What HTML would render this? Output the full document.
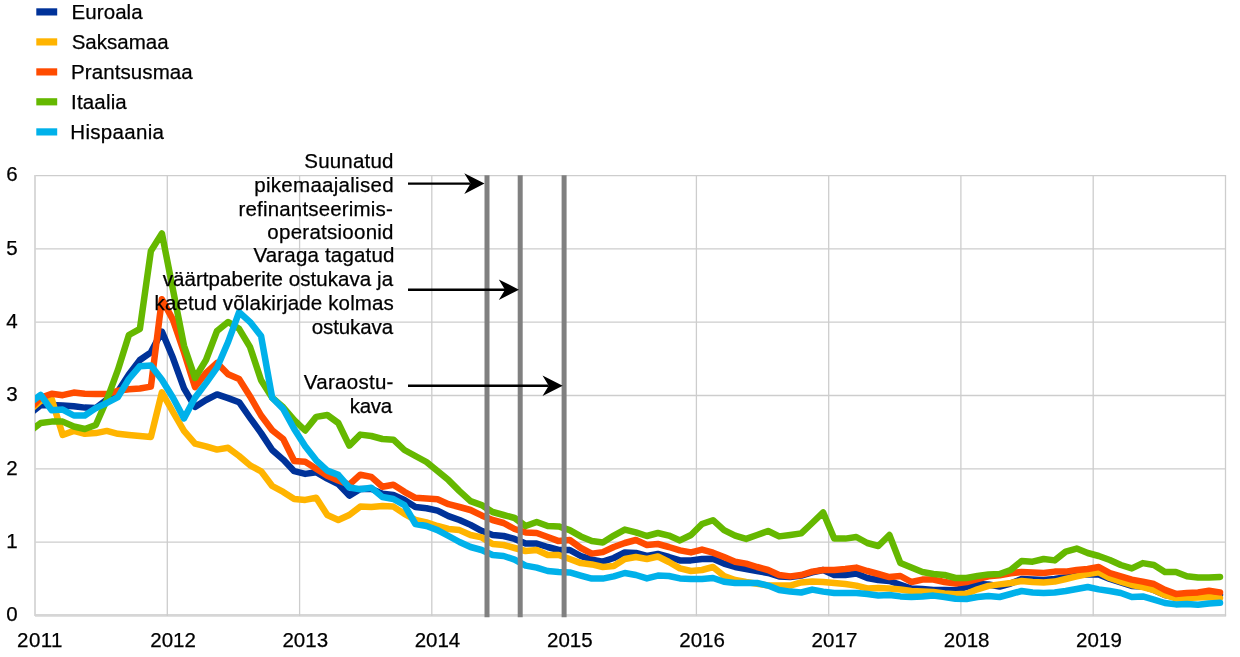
<!DOCTYPE html>
<html lang="et"><head><meta charset="utf-8"><title>Chart</title>
<style>
html,body{margin:0;padding:0;background:#fff;}
svg{display:block;}
text{font-family:"Liberation Sans",Arial,sans-serif;font-size:20.5px;fill:#000;stroke:#000;stroke-width:0.25px;}
.s{fill:none;stroke-linejoin:round;stroke-linecap:round;stroke-width:6.5}
.g{stroke:#cdcdcd;stroke-width:1.3;fill:none}
.v{stroke:#808080;stroke-width:5.0;fill:none}
.a{stroke:#000;stroke-width:2.4;fill:none}
</style></head><body>
<svg width="1240" height="657" viewBox="0 0 1240 657">
<rect width="1240" height="657" fill="#fff"/>
<defs><clipPath id="c"><rect x="35.0" y="170" width="1194.5" height="450"/></clipPath></defs>

<path class="g" d="M35.0 542.2 H1225.5"/>
<path class="g" d="M35.0 468.9 H1225.5"/>
<path class="g" d="M35.0 395.5 H1225.5"/>
<path class="g" d="M35.0 322.2 H1225.5"/>
<path class="g" d="M35.0 248.9 H1225.5"/>
<path class="g" d="M35.0 175.6 H1225.5"/>
<path d="M35.0 615.40 H1226.1" stroke="#d6d6d6" stroke-width="2.7" fill="none"/>
<path class="g" style="stroke-width:1.75;stroke:#d4d4d4" d="M35.0 175.0 V616.1"/>
<path class="g" d="M167.3 175.0 V616.1"/>
<path class="g" d="M299.6 175.0 V616.1"/>
<path class="g" d="M431.8 175.0 V616.1"/>
<path class="g" d="M564.1 175.0 V616.1"/>
<path class="g" d="M696.4 175.0 V616.1"/>
<path class="g" d="M828.7 175.0 V616.1"/>
<path class="g" d="M960.9 175.0 V616.1"/>
<path class="g" d="M1093.2 175.0 V616.1"/>
<path class="g" d="M1225.5 175.0 V616.1"/>
<g clip-path="url(#c)">
<path class="s" stroke="#003299" d="M29.7 413.6 L40.7 405.2 L51.7 405.0 L62.7 405.4 L73.8 406.2 L84.8 407.6 L95.8 408.0 L106.8 399.6 L117.9 391.6 L128.9 374.4 L139.9 360.0 L150.9 352.3 L161.9 331.6 L173.0 358.1 L184.0 388.3 L195.0 406.9 L206.0 400.0 L217.0 394.4 L228.1 398.1 L239.1 402.2 L250.1 418.0 L261.1 433.1 L272.2 450.0 L283.2 459.6 L294.2 471.2 L305.2 473.9 L316.2 472.2 L327.3 478.6 L338.3 484.0 L349.3 495.6 L360.3 488.9 L371.3 488.9 L382.4 493.8 L393.4 494.9 L404.4 499.9 L415.4 507.0 L426.5 508.2 L437.5 510.6 L448.5 516.1 L459.5 520.0 L470.5 524.9 L481.6 530.8 L492.6 535.0 L503.6 536.0 L514.6 538.9 L525.6 543.6 L536.7 543.6 L547.7 547.0 L558.7 550.0 L569.7 550.0 L580.8 556.0 L591.8 559.7 L602.8 561.7 L613.8 558.0 L624.8 552.4 L635.9 553.0 L646.9 556.0 L657.9 554.0 L668.9 557.0 L679.9 560.4 L691.0 560.4 L702.0 559.0 L713.0 558.7 L724.0 563.6 L735.1 567.0 L746.1 569.0 L757.1 571.0 L768.1 573.0 L779.1 576.4 L790.2 577.1 L801.2 575.6 L812.2 572.4 L823.2 570.0 L834.2 575.0 L845.3 575.0 L856.3 573.6 L867.3 578.0 L878.3 580.0 L889.4 581.0 L900.4 584.8 L911.4 588.5 L922.4 589.1 L933.4 589.9 L944.5 590.1 L955.5 590.2 L966.5 587.0 L977.5 584.0 L988.5 584.5 L999.6 586.5 L1010.6 583.5 L1021.6 579.0 L1032.6 579.6 L1043.7 580.0 L1054.7 579.0 L1065.7 577.1 L1076.7 575.0 L1087.7 574.4 L1098.8 574.4 L1109.8 579.0 L1120.8 582.4 L1131.8 585.9 L1142.8 586.4 L1153.9 590.0 L1164.9 595.0 L1175.9 597.0 L1186.9 596.6 L1198.0 595.5 L1209.0 594.4 L1220.0 594.7"/>
<path class="s" stroke="#FFB400" d="M29.7 410.3 L40.7 400.8 L51.7 399.0 L62.7 435.0 L73.8 430.9 L84.8 433.8 L95.8 433.1 L106.8 430.9 L117.9 433.8 L128.9 435.0 L139.9 436.0 L150.9 437.0 L161.9 392.4 L173.0 412.0 L184.0 430.9 L195.0 443.6 L206.0 446.3 L217.0 449.6 L228.1 447.8 L239.1 456.0 L250.1 465.4 L261.1 471.3 L272.2 486.0 L283.2 491.9 L294.2 499.0 L305.2 499.9 L316.2 497.8 L327.3 515.0 L338.3 520.0 L349.3 515.0 L360.3 506.6 L371.3 507.0 L382.4 506.0 L393.4 506.6 L404.4 513.9 L415.4 519.8 L426.5 522.4 L437.5 526.0 L448.5 529.0 L459.5 530.1 L470.5 535.0 L481.6 537.4 L492.6 544.0 L503.6 545.0 L514.6 548.0 L525.6 551.0 L536.7 550.0 L547.7 555.0 L558.7 555.0 L569.7 559.0 L580.8 563.1 L591.8 564.4 L602.8 567.0 L613.8 566.1 L624.8 559.0 L635.9 557.0 L646.9 559.0 L657.9 556.5 L668.9 562.0 L679.9 568.4 L691.0 571.0 L702.0 570.0 L713.0 567.0 L724.0 576.0 L735.1 580.0 L746.1 582.0 L757.1 583.7 L768.1 585.5 L779.1 585.5 L790.2 585.6 L801.2 582.4 L812.2 581.6 L823.2 582.0 L834.2 583.0 L845.3 584.0 L856.3 585.6 L867.3 588.4 L878.3 588.1 L889.4 588.4 L900.4 589.6 L911.4 591.0 L922.4 591.6 L933.4 592.0 L944.5 593.5 L955.5 594.2 L966.5 593.7 L977.5 589.3 L988.5 585.9 L999.6 584.4 L1010.6 583.0 L1021.6 581.0 L1032.6 582.0 L1043.7 582.4 L1054.7 581.6 L1065.7 579.0 L1076.7 576.4 L1087.7 574.0 L1098.8 572.4 L1109.8 578.0 L1120.8 581.6 L1131.8 585.0 L1142.8 587.0 L1153.9 590.0 L1164.9 595.0 L1175.9 598.4 L1186.9 598.0 L1198.0 597.4 L1209.0 597.0 L1220.0 598.0"/>
<path class="s" stroke="#FF4B00" d="M29.7 408.9 L40.7 397.8 L51.7 393.7 L62.7 395.2 L73.8 392.6 L84.8 393.7 L95.8 394.1 L106.8 394.1 L117.9 390.8 L128.9 389.3 L139.9 388.5 L150.9 386.6 L161.9 299.2 L173.0 319.9 L184.0 352.3 L195.0 387.1 L206.0 372.9 L217.0 363.0 L228.1 374.3 L239.1 379.0 L250.1 396.4 L261.1 415.5 L272.2 430.2 L283.2 439.0 L294.2 461.0 L305.2 461.8 L316.2 468.7 L327.3 475.7 L338.3 480.4 L349.3 484.7 L360.3 474.7 L371.3 476.9 L382.4 486.7 L393.4 484.7 L404.4 491.8 L415.4 497.8 L426.5 498.5 L437.5 499.2 L448.5 504.2 L459.5 507.0 L470.5 510.0 L481.6 515.4 L492.6 520.0 L503.6 523.0 L514.6 529.0 L525.6 532.4 L536.7 533.0 L547.7 537.0 L558.7 541.1 L569.7 540.0 L580.8 548.0 L591.8 553.6 L602.8 552.1 L613.8 547.0 L624.8 543.0 L635.9 540.0 L646.9 545.0 L657.9 544.0 L668.9 547.0 L679.9 550.4 L691.0 552.4 L702.0 549.6 L713.0 552.7 L724.0 557.0 L735.1 561.7 L746.1 563.6 L757.1 567.0 L768.1 570.0 L779.1 575.0 L790.2 576.4 L801.2 575.0 L812.2 571.6 L823.2 570.0 L834.2 570.0 L845.3 569.0 L856.3 567.6 L867.3 571.0 L878.3 574.0 L889.4 577.1 L900.4 576.0 L911.4 582.0 L922.4 579.6 L933.4 579.6 L944.5 582.0 L955.5 583.6 L966.5 582.0 L977.5 579.0 L988.5 576.3 L999.6 575.2 L1010.6 573.2 L1021.6 572.0 L1032.6 572.4 L1043.7 573.0 L1054.7 571.6 L1065.7 571.6 L1076.7 570.0 L1087.7 569.0 L1098.8 567.0 L1109.8 573.0 L1120.8 576.4 L1131.8 579.6 L1142.8 581.6 L1153.9 584.0 L1164.9 589.9 L1175.9 593.9 L1186.9 592.9 L1198.0 592.4 L1209.0 590.7 L1220.0 592.4"/>
<path class="s" stroke="#65B800" d="M29.7 431.6 L40.7 423.0 L51.7 421.6 L62.7 421.6 L73.8 426.5 L84.8 429.0 L95.8 425.0 L106.8 400.0 L117.9 369.9 L128.9 335.0 L139.9 328.8 L150.9 250.9 L161.9 233.4 L173.0 289.8 L184.0 345.7 L195.0 378.0 L206.0 360.0 L217.0 331.0 L228.1 322.0 L239.1 328.8 L250.1 347.2 L261.1 380.2 L272.2 397.8 L283.2 407.3 L294.2 420.2 L305.2 430.5 L316.2 416.9 L327.3 415.0 L338.3 423.0 L349.3 445.6 L360.3 434.6 L371.3 436.0 L382.4 439.0 L393.4 439.7 L404.4 450.0 L415.4 456.0 L426.5 462.0 L437.5 471.0 L448.5 480.1 L459.5 491.1 L470.5 501.1 L481.6 505.1 L492.6 512.0 L503.6 515.0 L514.6 518.0 L525.6 526.0 L536.7 522.0 L547.7 526.0 L558.7 526.4 L569.7 530.1 L580.8 536.4 L591.8 541.1 L602.8 542.4 L613.8 535.6 L624.8 529.6 L635.9 532.4 L646.9 536.0 L657.9 533.0 L668.9 535.6 L679.9 540.4 L691.0 535.0 L702.0 524.0 L713.0 520.2 L724.0 530.1 L735.1 535.6 L746.1 538.9 L757.1 535.0 L768.1 531.0 L779.1 536.4 L790.2 535.0 L801.2 533.4 L812.2 523.0 L823.2 512.4 L834.2 538.4 L845.3 538.6 L856.3 537.0 L867.3 543.0 L878.3 546.0 L889.4 535.0 L900.4 563.1 L911.4 567.6 L922.4 572.0 L933.4 574.0 L944.5 575.0 L955.5 578.0 L966.5 578.0 L977.5 576.0 L988.5 574.4 L999.6 574.0 L1010.6 570.0 L1021.6 561.0 L1032.6 561.7 L1043.7 559.0 L1054.7 560.4 L1065.7 551.6 L1076.7 548.6 L1087.7 553.0 L1098.8 556.0 L1109.8 560.0 L1120.8 565.0 L1131.8 568.4 L1142.8 563.1 L1153.9 565.0 L1164.9 572.0 L1175.9 572.0 L1186.9 576.3 L1198.0 577.6 L1209.0 577.4 L1220.0 576.9"/>
<path class="s" stroke="#00B1EA" d="M29.7 403.0 L40.7 394.9 L51.7 410.3 L62.7 409.6 L73.8 415.5 L84.8 415.5 L95.8 408.1 L106.8 403.0 L117.9 397.1 L128.9 379.0 L139.9 366.2 L150.9 365.5 L161.9 379.7 L173.0 397.8 L184.0 418.4 L195.0 397.8 L206.0 383.1 L217.0 367.7 L228.1 342.0 L239.1 312.1 L250.1 322.1 L261.1 336.1 L272.2 397.8 L283.2 408.9 L294.2 429.0 L305.2 446.3 L316.2 460.3 L327.3 470.6 L338.3 474.9 L349.3 487.5 L360.3 489.2 L371.3 487.8 L382.4 497.0 L393.4 499.0 L404.4 505.1 L415.4 524.0 L426.5 526.0 L437.5 530.1 L448.5 536.0 L459.5 542.0 L470.5 547.0 L481.6 550.0 L492.6 555.0 L503.6 556.0 L514.6 559.6 L525.6 565.6 L536.7 567.6 L547.7 571.0 L558.7 572.0 L569.7 572.4 L580.8 575.6 L591.8 578.6 L602.8 578.6 L613.8 576.4 L624.8 573.0 L635.9 575.0 L646.9 578.4 L657.9 575.6 L668.9 576.0 L679.9 578.4 L691.0 579.0 L702.0 579.0 L713.0 578.0 L724.0 581.8 L735.1 583.0 L746.1 583.0 L757.1 583.0 L768.1 585.6 L779.1 590.0 L790.2 591.6 L801.2 592.5 L812.2 589.6 L823.2 591.6 L834.2 593.0 L845.3 593.0 L856.3 593.0 L867.3 594.0 L878.3 595.5 L889.4 595.0 L900.4 596.4 L911.4 597.0 L922.4 596.6 L933.4 595.6 L944.5 597.0 L955.5 598.8 L966.5 599.0 L977.5 597.0 L988.5 596.0 L999.6 597.0 L1010.6 594.0 L1021.6 591.0 L1032.6 592.5 L1043.7 593.0 L1054.7 592.5 L1065.7 591.0 L1076.7 589.0 L1087.7 587.0 L1098.8 589.4 L1109.8 591.0 L1120.8 593.0 L1131.8 597.0 L1142.8 596.4 L1153.9 599.6 L1164.9 603.0 L1175.9 604.4 L1186.9 604.0 L1198.0 604.8 L1209.0 603.5 L1220.0 602.7"/>
</g>
<path class="v" d="M487.0 175.3 V617.3"/>
<path class="v" d="M520.2 175.3 V617.3"/>
<path class="v" d="M564.1 175.3 V617.3"/>
<rect x="36.3" y="8.3" width="20.9" height="7.2" fill="#003299"/>
<rect x="36.3" y="38.3" width="20.9" height="7.2" fill="#FFB400"/>
<rect x="36.3" y="68.3" width="20.9" height="7.2" fill="#FF4B00"/>
<rect x="36.3" y="98.2" width="20.9" height="7.2" fill="#65B800"/>
<rect x="36.3" y="128.3" width="20.9" height="7.2" fill="#00B1EA"/>
<text x="71.58" y="18.7" letter-spacing="0.067">Euroala</text>
<text x="71.70" y="48.7" letter-spacing="0.004">Saksamaa</text>
<text x="71.08" y="78.7" letter-spacing="0.087">Prantsusmaa</text>
<text x="71.12" y="108.6" letter-spacing="0.154">Itaalia</text>
<text x="70.27" y="138.7" letter-spacing="0.312">Hispaania</text>
<text x="6.3" y="621.3">0</text>
<text x="6.3" y="548.0">1</text>
<text x="6.3" y="474.7">2</text>
<text x="6.3" y="401.3">3</text>
<text x="6.3" y="328.0">4</text>
<text x="6.3" y="254.7">5</text>
<text x="6.3" y="181.4">6</text>
<text x="17.10" y="646.6" letter-spacing="0.392">2011</text>
<text x="150.18" y="646.6" letter-spacing="0.058">2012</text>
<text x="282.46" y="646.6" letter-spacing="0.017">2013</text>
<text x="414.73" y="646.6" letter-spacing="-0.067">2014</text>
<text x="547.01" y="646.6" letter-spacing="0.017">2015</text>
<text x="679.29" y="646.6" letter-spacing="0.017">2016</text>
<text x="811.57" y="646.6" letter-spacing="0.058">2017</text>
<text x="943.84" y="646.6" letter-spacing="0.017">2018</text>
<text x="1076.12" y="646.6" letter-spacing="0.058">2019</text>
<text x="304.30" y="167.7" letter-spacing="0.200">Suunatud</text>
<text x="254.33" y="191.5" letter-spacing="0.279">pikemaajalised</text>
<text x="238.53" y="215.5" letter-spacing="0.172">refinantseerimis-</text>
<text x="267.32" y="239.3" letter-spacing="0.260">operatsioonid</text>
<text x="253.38" y="262.4" letter-spacing="0.181">Varaga tagatud</text>
<text x="162.68" y="285.7" letter-spacing="0.055">väärtpaberite ostukava ja</text>
<text x="154.53" y="309.6" letter-spacing="0.144">kaetud võlakirjade kolmas</text>
<text x="311.73" y="333.6" letter-spacing="-0.104">ostukava</text>
<text x="303.78" y="389.2" letter-spacing="0.291">Varaostu-</text>
<text x="349.73" y="412.9" letter-spacing="-0.292">kava</text>
<path class="a" d="M408.0 183.6 H470.5"/><path fill="#000" d="M484.5 183.6 L464.3 173.3 L470.5 183.6 L464.3 193.9 Z"/>
<path class="a" d="M408.0 289.7 H505.0"/><path fill="#000" d="M519.0 289.7 L498.8 279.4 L505.0 289.7 L498.8 300.0 Z"/>
<path class="a" d="M408.0 385.7 H548.7"/><path fill="#000" d="M562.7 385.7 L542.5 375.4 L548.7 385.7 L542.5 396.0 Z"/>
</svg></body></html>
